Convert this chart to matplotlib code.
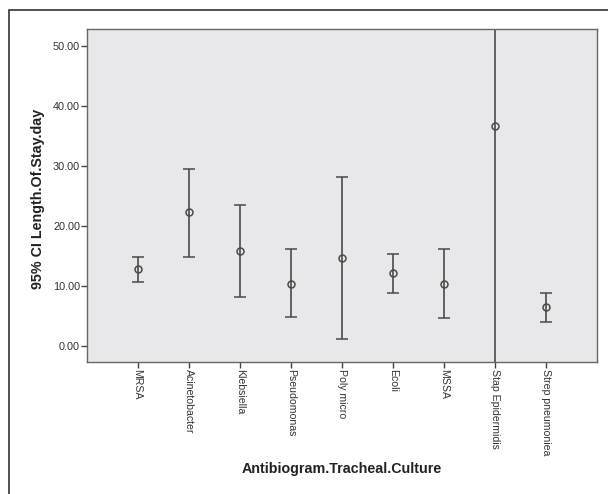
import numpy as np
from matplotlib import pyplot as plt
from matplotlib.patches import Rectangle


cultures = ['MRSA', 'Acinetobacter', 'Klebsiella', 'Pseudomonas', 'Poly micro',
            'Ecoli', 'MSSA', 'Stap Epidermidis', 'Strep pneumoniea']
meanStay = [12.8, 22.3, 15.9, 10.4, 14.6, 12.2, 10.3, 36.6, 6.5]
ciLower = [10.6, 14.9, 8.1, 4.8, 1.1, 8.9, 4.6, -20.0, 4.05]
ciUpper = [14.8, 29.5, 23.5, 16.1, 28.1, 15.4, 16.1, 93.2, 8.9]
yTicks = [0, 10, 20, 30, 40, 50]


def plotCi():
  plt.rcParams['font.family'] = ['Liberation Sans', 'DejaVu Sans']
  W, H = 608, 494
  L, R, T, B = 87., 597., 29., 362.
  fig = plt.figure(figsize=(W/100., H/100.), dpi=100)
  ax = fig.add_axes([L/W, 1-B/H, (R-L)/W, (B-T)/H])
  ax.set_facecolor('#e8e8ea')

  x = np.arange(len(cultures))
  mean = np.array(meanStay)
  yerr = [mean-np.array(ciLower), np.array(ciUpper)-mean]
  ax.errorbar(x, mean, yerr=yerr, fmt='o', color='#4a4a4a', ecolor='#4a4a4a',
              elinewidth=1.2, capsize=4.5, capthick=1.2, markersize=5,
              markerfacecolor='none', markeredgewidth=1.1)

  ax.set_xlim(-0.99, 9.0)
  ax.set_ylim(-2.67, 52.83)
  ax.set_yticks(yTicks)
  ax.set_yticklabels(['%.2f' % v for v in yTicks], fontsize=7.8, color='#333333')
  ax.set_xticks(x)
  ax.set_xticklabels(cultures, rotation=270, fontsize=7.6, color='#333333',
                     va='top', ha='center')
  ax.tick_params(axis='both', length=4.5, width=1, color='#444444', pad=0.5)

  for sp in ax.spines.values():
    sp.set_color('#666666')
    sp.set_linewidth(1)

  ax.set_ylabel('95% CI Length.Of.Stay.day', fontsize=10.3, fontweight='bold',
                color='#222222')
  ax.yaxis.set_label_coords((45.-L)/(R-L), 0.49)
  fig.text(342./W, 1-469./H, 'Antibiogram.Tracheal.Culture', fontsize=10.3,
           fontweight='bold', color='#222222', ha='center', va='center')

  # outer frame, cut off at right and bottom
  fig.patches.append(Rectangle((9./W, -0.1), 1.2, 1-10./H+0.1, transform=fig.transFigure,
                               fill=False, edgecolor='#333333', linewidth=1.2))

  fig.savefig('out.png', dpi=100)


if __name__ == '__main__':
  plotCi()
